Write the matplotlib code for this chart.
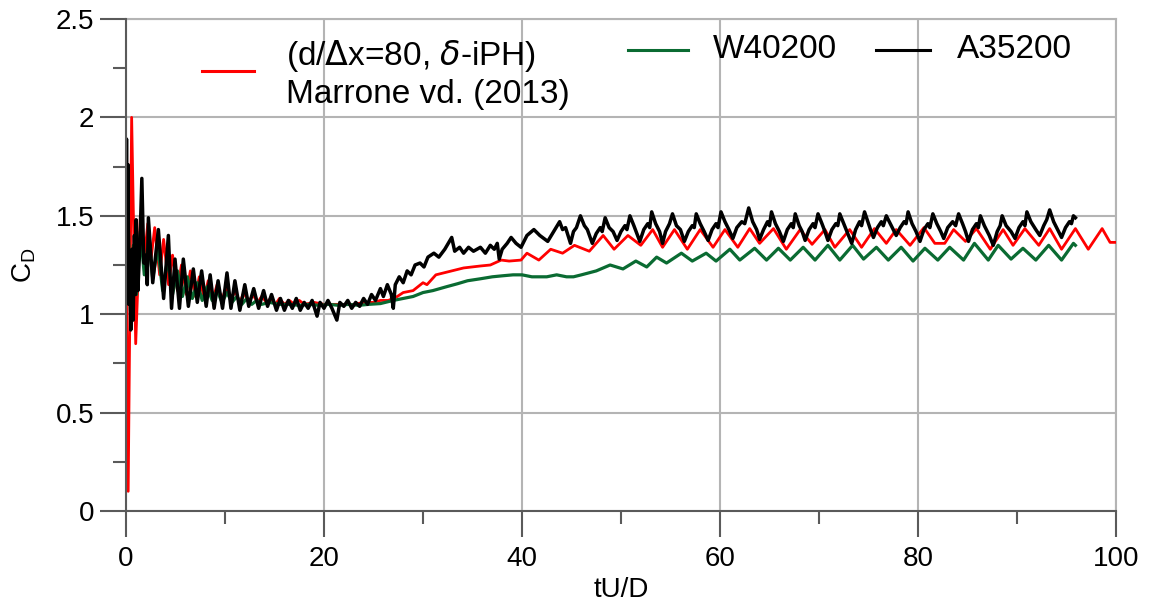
import numpy as np
import matplotlib
matplotlib.use("Agg")
import matplotlib.pyplot as plt
from matplotlib.lines import Line2D
from matplotlib.ticker import MultipleLocator, FormatStrFormatter

plt.rcParams['font.family'] = ['Liberation Sans', 'DejaVu Sans']
plt.rcParams['mathtext.fontset'] = 'dejavusans'

# ---------------- data (tU/D, C_D) ----------------
red_early = [(0.0,1.35),(0.22,0.10),(0.57,2.00),(0.98,0.85),(1.45,1.50),(1.80,1.26),(2.20,1.46),(2.55,1.29),
             (2.90,1.44),(3.40,1.20),(3.80,1.38),(4.30,1.15),(4.70,1.30),(5.20,1.12),(5.60,1.25),(6.10,1.10),
             (6.50,1.22),(7.00,1.09),(7.40,1.19),(7.90,1.08),(8.30,1.17),(8.80,1.08),(9.20,1.15),(9.70,1.07),
             (10.1,1.14),(10.6,1.07),(11.0,1.12),(11.5,1.06),(11.9,1.11),(12.4,1.06),(12.8,1.10),(13.3,1.06),
             (13.7,1.09),(14.2,1.06),(14.6,1.08),(15.1,1.05),(15.5,1.08),(16.0,1.05),(16.5,1.07),(17.0,1.05),
             (17.5,1.07),(18.0,1.05),(19.0,1.06),(20.0,1.05),(21.0,1.05),(22.0,1.05),(23.0,1.05),(24.0,1.06),
             (25.0,1.06),(25.7,1.07),(26.5,1.07),(27.4,1.09),(28.0,1.11),(29.0,1.12),(30.0,1.16),(30.4,1.15),
             (31.3,1.20),(32.5,1.215),(34.1,1.235),(35.8,1.245),(36.8,1.25),(37.9,1.275),(38.7,1.27),(39.9,1.275)]
red_late = [(40.5,1.31),(41.7,1.275),(42.9,1.33),(44.1,1.31),(45.3,1.35),(46.8,1.32),(48.2,1.40),(49.3,1.33),
            (50.7,1.40),(52.0,1.35),(53.2,1.43),(54.2,1.34),(55.4,1.43),(56.7,1.33),(58.0,1.43),(59.3,1.34),
            (60.5,1.43),(61.8,1.34),(63.0,1.435),(64.0,1.36),(65.4,1.435),(66.7,1.33),(68.1,1.43),(69.3,1.355),
            (70.6,1.43),(71.6,1.34),(73.1,1.43),(74.3,1.34),(75.6,1.435),(76.8,1.36),(77.8,1.43),(79.2,1.35),
            (80.6,1.44),(81.7,1.36),(82.7,1.36),(83.6,1.43),(84.8,1.37),(85.9,1.435),(87.3,1.33),(88.6,1.43),
            (89.6,1.35),(90.8,1.435),(92.2,1.35),(93.3,1.435),(94.5,1.33),(95.9,1.435),(97.2,1.33),(98.6,1.435),
            (99.4,1.365),(99.9,1.365)]

green_early = [(0.0,1.50),(0.08,1.22),(0.25,1.42),(0.45,1.02),(0.75,1.35),(1.05,1.10),(1.45,1.42),(1.85,1.20),
               (2.30,1.38),(2.70,1.18),(3.20,1.34),(3.70,1.12),(4.20,1.28),(4.70,1.10),(5.20,1.22),(5.70,1.09),
               (6.20,1.19),(6.70,1.08),(7.20,1.16),(7.70,1.07),(8.20,1.14),(8.70,1.07),(9.20,1.12),(9.70,1.06),
               (10.2,1.11),(10.7,1.06),(11.2,1.09),(11.7,1.05),(12.2,1.08),(12.7,1.05),(13.2,1.07),(13.7,1.05),
               (14.5,1.06),(15.5,1.05),(16.5,1.05),(17.5,1.045),(18.5,1.05),(19.5,1.045),(20.5,1.05),(21.5,1.045),
               (22.5,1.05),(23.5,1.045),(24.5,1.05),(25.7,1.054),(27.0,1.07),(28.0,1.08),(29.0,1.09),(30.0,1.11),
               (31.0,1.12),(32.4,1.14),(33.5,1.155),(34.5,1.17),(35.8,1.18),(37.0,1.19),(38.0,1.195),(39.1,1.20),
               (40.0,1.20),(41.0,1.19),(42.5,1.19),(43.5,1.20),(44.5,1.19),(45.2,1.19),(46.0,1.20),(47.5,1.22),
               (48.9,1.25),(50.2,1.23),(51.5,1.27),(52.6,1.24),(53.6,1.29),(54.6,1.26),(56.1,1.31),(57.2,1.27),
               (58.6,1.31),(59.6,1.27),(61.0,1.33)]
green_late = [(62.0,1.275),(63.5,1.335),(64.7,1.275),(65.9,1.335),(67.1,1.275),(68.4,1.34),(69.6,1.275),
              (70.9,1.35),(72.1,1.275),(73.4,1.35),(74.5,1.28),(75.8,1.34),(77.0,1.275),(78.3,1.34),(79.5,1.27),
              (80.7,1.335),(82.0,1.275),(83.2,1.34),(84.6,1.275),(85.7,1.36),(87.1,1.275),(88.1,1.35),(89.4,1.28),
              (90.6,1.335),(91.9,1.275),(93.2,1.35),(94.5,1.275),(95.7,1.36),(95.9,1.35)]

black_early = [(0.00,1.45),(0.05,1.89),(0.12,1.20),(0.20,1.76),(0.28,1.05),(0.38,1.30),(0.48,0.92),(0.60,1.33),
               (0.72,0.97),(0.85,1.40),(0.95,1.10),(1.02,1.48),(1.20,1.12),(1.40,1.35),(1.60,1.69),(1.80,1.26),
               (2.00,1.30),(2.15,1.15),(2.26,1.49),(2.70,1.16),(3.27,1.43),(3.80,1.08),(4.28,1.40),(4.60,1.03),
               (4.95,1.28),(5.40,1.03),(5.79,1.28),(6.30,1.04),(6.80,1.23),(7.20,1.06),(7.64,1.22),(8.10,1.04),
               (8.50,1.20),(8.90,1.03),(9.30,1.17),(9.75,1.03),(10.2,1.21),(10.6,1.03),(11.0,1.17),(11.5,1.02),
               (12.0,1.15),(12.4,1.04),(12.9,1.13),(13.4,1.03),(13.9,1.12),(14.3,1.04),(14.7,1.10),(15.2,1.02),
               (15.6,1.08),(16.0,1.02),(16.4,1.07),(16.8,1.03),(17.2,1.08),(17.6,1.02),(18.0,1.06),(18.4,1.03),
               (18.8,1.07),(19.3,0.99),(19.6,1.06),(20.0,1.03),(20.4,1.07),(20.8,1.03),(21.3,0.97),(21.6,1.06),
               (22.0,1.04),(22.4,1.07),(22.8,1.03),(23.2,1.06),(23.6,1.04),(24.0,1.08),(24.4,1.05),(24.8,1.10),
               (25.2,1.07),(25.7,1.13),(26.0,1.09),(26.4,1.15),(26.8,1.10),(27.0,1.03),(27.2,1.15),(27.6,1.19),
               (28.0,1.16),(28.4,1.22),(28.8,1.20),(29.2,1.25),(29.7,1.26),(30.1,1.24),(30.5,1.29),(31.1,1.31),
               (31.6,1.29),(32.2,1.33),(32.9,1.39),(33.2,1.32),(33.7,1.34),(34.1,1.31),(34.6,1.34),(35.1,1.32),
               (35.8,1.34),(36.3,1.31),(36.8,1.35),(37.2,1.33),(37.5,1.36),(37.7,1.28),(38.0,1.33),(38.5,1.36),
               (38.9,1.39),(39.4,1.36),(39.9,1.34),(40.5,1.40),(41.2,1.43),(41.8,1.40),(42.6,1.37),(43.2,1.42)]
black_late = [(43.8,1.47),(44.1,1.43),(44.4,1.44),(44.9,1.36),(45.2,1.42),(45.5,1.44),(45.9,1.50),(46.3,1.45),
              (46.6,1.43),(47.1,1.36),(47.5,1.41),(47.9,1.44),(48.1,1.42),(48.4,1.49),(48.8,1.44),(49.2,1.42),
              (49.6,1.375),(50.0,1.42),(50.4,1.45),(50.6,1.43),(50.9,1.50),(51.3,1.45),(51.6,1.41),(51.9,1.37),
              (52.3,1.43),(52.7,1.46),(52.9,1.44),(53.1,1.52),(53.5,1.46),(53.9,1.42),(54.2,1.36),(54.5,1.42),
              (54.9,1.46),(55.2,1.51),(55.6,1.45),(56.0,1.43),(56.4,1.37),(56.8,1.42),(57.2,1.45),(57.4,1.44),
              (57.6,1.51),(58.0,1.46),(58.4,1.42),(58.8,1.375),(59.2,1.43),(59.6,1.46),(59.8,1.44),(60.1,1.52),
              (60.5,1.47),(60.9,1.43),(61.3,1.385),(61.7,1.44),(62.2,1.47),(62.5,1.46),(62.9,1.54),(63.3,1.47),
              (63.7,1.43),(64.0,1.38),(64.4,1.43),(64.8,1.47),(65.0,1.45),(65.2,1.52),(65.6,1.46),(66.0,1.42),
              (66.4,1.37),(66.8,1.43),(67.2,1.46),(67.4,1.44),(67.6,1.51),(68.0,1.45),(68.3,1.42),(68.6,1.375),
              (69.0,1.43),(69.4,1.46),(69.6,1.44),(69.9,1.51),(70.3,1.46),(70.6,1.42),(70.9,1.375),(71.3,1.43),
              (71.7,1.46),(71.9,1.45),(72.1,1.51),(72.5,1.46),(72.9,1.41),(73.3,1.36),(73.7,1.43),(74.1,1.47),
              (74.3,1.45),(74.6,1.52),(75.0,1.46),(75.2,1.43),(75.5,1.39),(75.9,1.44),(76.3,1.47),(76.5,1.45),
              (76.8,1.50),(77.2,1.46),(77.5,1.43),(77.8,1.40),(78.2,1.44),(78.6,1.47),(78.8,1.46),(79.0,1.52),
              (79.4,1.46),(79.8,1.42),(80.2,1.37),(80.6,1.43),(81.0,1.46),(81.2,1.44),(81.5,1.51),(81.9,1.46),
              (82.3,1.42),(82.6,1.385),(83.0,1.44),(83.5,1.47),(83.8,1.45),(84.1,1.51),(84.5,1.46),(84.8,1.42),
              (85.1,1.37),(85.5,1.43),(85.9,1.46),(86.1,1.44),(86.3,1.50),(86.7,1.45),(87.2,1.40),(87.6,1.35),
              (88.0,1.42),(88.3,1.45),(88.5,1.50),(88.9,1.45),(89.4,1.42),(89.8,1.385),(90.2,1.44),(90.6,1.47),
              (90.8,1.45),(91.0,1.52),(91.4,1.47),(91.9,1.43),(92.3,1.40),(92.7,1.45),(93.0,1.48),(93.3,1.53),
              (93.7,1.47),(94.1,1.43),(94.5,1.39),(94.9,1.44),(95.3,1.47),(95.5,1.46),(95.7,1.50),(95.9,1.49)]

label_red_1 = r'(d/$\Delta$x=80, $\delta$-iPH)'
label_red_2 = 'Marrone vd. (2013)'
label_green = 'W40200'
label_black = 'A35200'
xticks = [0, 20, 40, 60, 80, 100]
yticks = [0, 0.5, 1, 1.5, 2, 2.5]

col_red = '#ff0000'
col_green = '#0a6b32'
col_black = '#000000'
col_axis = '#5a5a5a'
col_grid = '#b4b4b4'

# ---------------- figure ----------------
W, H = 1149, 609
fig = plt.figure(figsize=(W / 100, H / 100), dpi=100)
ax = fig.add_axes([126 / W, 1 - 511 / H, 990 / W, 492 / H])

def arr(*parts):
    a = np.array([p for part in parts for p in part])
    return a[:, 0], a[:, 1]

tr, yr = arr(red_early, red_late)
tg, yg = arr(green_early, green_late)
tb, yb = arr(black_early, black_late)

ax.plot(tr, yr, color=col_red, lw=2.0, zorder=3)
ax.plot(tg, yg, color=col_green, lw=2.3, zorder=3)
ax.plot(tb, yb, color=col_black, lw=2.5, zorder=4)

ax.set_xlim(0, 100)
ax.set_ylim(0, 2.5)
ax.set_xticks(xticks)
ax.set_yticks(yticks)
ax.xaxis.set_minor_locator(MultipleLocator(10))
ax.yaxis.set_minor_locator(MultipleLocator(0.25))
ax.yaxis.set_major_formatter(FormatStrFormatter('%g'))
ax.xaxis.set_major_formatter(FormatStrFormatter('%g'))

ax.grid(which='major', color=col_grid, lw=1.5)
ax.set_axisbelow(True)
for side in ['left', 'bottom']:
    ax.spines[side].set_color(col_axis)
    ax.spines[side].set_linewidth(1.5)
    ax.spines[side].set_zorder(5)
for side in ['top', 'right']:
    ax.spines[side].set_color(col_grid)
    ax.spines[side].set_linewidth(1.5)

ax.tick_params(which='major', length=19, width=1.5, color=col_axis, labelsize=20)
ax.tick_params(which='minor', length=9.5, width=1.5, color=col_axis)
ax.tick_params(axis='x', which='major', pad=6)
ax.tick_params(axis='y', which='major', pad=4)

ax.set_xlabel('tU/D', fontsize=20, va='center')
ax.xaxis.set_label_coords(0.5, -0.161)
ax.set_ylabel(r'C$_\mathregular{D}$', fontsize=20, va='center')
ax.yaxis.set_label_coords(-0.103, 0.5)

# ---------------- legend (no frame) ----------------
def fx(px):
    return px / W

def fy(py):
    return 1 - py / H

fig.add_artist(Line2D([fx(202), fx(254)], [fy(70.7), fy(70.7)], color=col_red, lw=2.2))
fig.text(fx(286), fy(56), label_red_1, fontsize=24, va='center', ha='left')
fig.text(fx(286), fy(94), label_red_2, fontsize=24, va='center', ha='left')
fig.add_artist(Line2D([fx(628), fx(688)], [fy(49.5), fy(49.5)], color=col_green, lw=2.2))
fig.text(fx(713), fy(50), label_green, fontsize=24, va='center', ha='left')
fig.add_artist(Line2D([fx(876), fx(930)], [fy(49.5), fy(49.5)], color=col_black, lw=2.2))
fig.text(fx(957), fy(50), label_black, fontsize=24, va='center', ha='left')

fig.savefig('out.png', dpi=100)
